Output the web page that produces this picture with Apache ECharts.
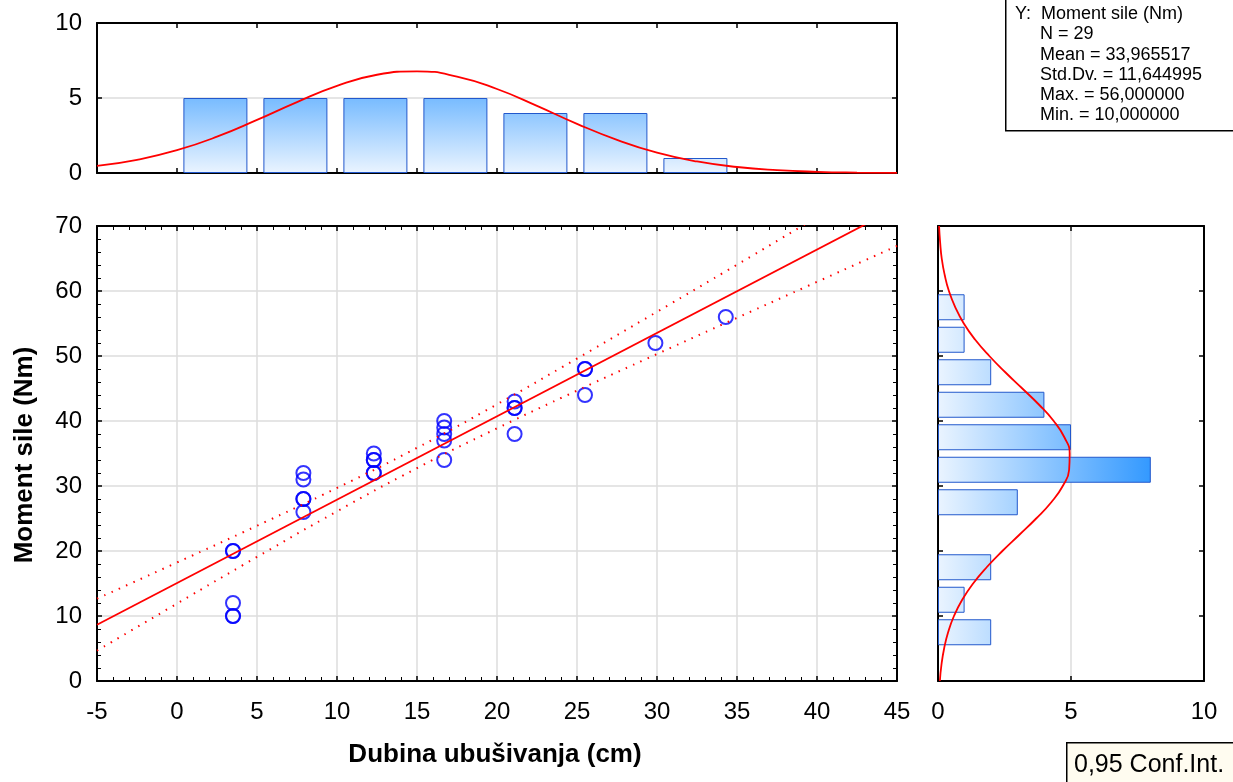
<!DOCTYPE html>
<html>
<head>
<meta charset="utf-8">
<script src="https://cdn.jsdelivr.net/npm/echarts@6/dist/echarts.min.js"></script>
<style>
  html, body { margin: 0; padding: 0; background: #fff; }
  #chart { width: 1233px; height: 782px; }
</style>
</head>
<body>
<div id="chart"></div>
<script>
// scatter data: Dubina ubušivanja (cm) vs Moment sile (Nm)
const scatterX = [3.5, 3.5, 3.5, 3.5, 3.5,
  7.9, 7.9, 7.9, 7.9, 7.9,
  12.3, 12.3, 12.3, 12.3, 12.3,
  16.7, 16.7, 16.7, 16.7, 16.7,
  21.1, 21.1, 21.1, 21.1,
  25.5, 25.5, 25.5,
  29.9, 34.3];
const scatterY = [20, 20, 12, 10, 10,
  32, 31, 28, 28, 26,
  35, 34, 34, 32, 32,
  40, 39, 38, 37, 34,
  43, 42, 42, 38,
  48, 48, 44,
  52, 56];

// regression line and 0.95 confidence band
const fitX = [-5, 45];
const fitY = [8.66, 72.79];
const ciX = [-5, 0, 5, 10, 15, 20, 25, 30, 35, 40, 45];
const ciUpper = [12.66, 18.23, 23.88, 29.70, 35.87, 42.57, 49.61, 56.80, 64.05, 71.35, 78.65];
const ciLower = [4.66, 11.91, 19.08, 26.10, 32.75, 38.87, 44.67, 50.30, 55.87, 61.41, 66.93];

// top histogram (X)
const xBinCenters = [2.4, 7.4, 12.4, 17.4, 22.4, 27.4, 32.4];
const xBinCounts = [5, 5, 5, 5, 4, 4, 1];
const topCurveX = [-5, -2.5, 0, 2.5, 5, 7.5, 10, 12.5, 15, 17.5, 20, 22.5, 25, 27.5, 30, 32.5, 35, 37.5, 40, 42.5, 45];
const topCurveY = [0.47, 0.88, 1.52, 2.42, 3.54, 4.73, 5.81, 6.55, 6.78, 6.43, 5.60, 4.48, 3.28, 2.21, 1.36, 0.77, 0.40, 0.19, 0.08, 0.03, 0.01];

// right histogram (Y)
const yBins = ['0-5', '5-10', '10-15', '15-20', '20-25', '25-30', '30-35', '35-40', '40-45', '45-50', '50-55', '55-60', '60-65', '65-70'];
const yBinCounts = ['-', 2, 1, 2, '-', 3, 8, 5, 4, 2, 1, 1, '-', '-'];
const rightCurveY = [0, 2.5, 5, 7.5, 10, 12.5, 15, 17.5, 20, 22.5, 25, 27.5, 30, 32.5, 35, 37.5, 40, 42.5, 45, 47.5, 50, 52.5, 55, 57.5, 60, 62.5, 65, 67.5, 70];
const rightCurveX = [0.07, 0.13, 0.23, 0.38, 0.60, 0.91, 1.32, 1.83, 2.42, 3.06, 3.69, 4.26, 4.69, 4.93, 4.95, 4.75, 4.35, 3.80, 3.17, 2.53, 1.93, 1.40, 0.97, 0.65, 0.41, 0.25, 0.14, 0.08, 0.04];

const statLines = ['Y:  Moment sile (Nm)', 'N = 29', 'Mean = 33,965517', 'Std.Dv. = 11,644995', 'Max. = 56,000000', 'Min. = 10,000000'];

const FONT = '"Liberation Sans", Arial, sans-serif';
const chart = echarts.init(document.getElementById('chart'));

const gridLine = { show: true, lineStyle: { color: '#dcdcdc', width: 1.5 } };
const blackLine = { show: true, onZero: false, lineStyle: { color: '#000', width: 2 } };
const tickIn = { show: true, inside: true, length: 5, lineStyle: { color: '#000', width: 1.5 } };
const minorIn = { show: true, splitNumber: 5, length: 4, lineStyle: { color: '#000', width: 1 } };
const lbl = { color: '#000', fontSize: 24, fontFamily: FONT };

function axis(extra) {
  return Object.assign({
    type: 'value',
    axisLine: blackLine,
    axisTick: tickIn,
    axisLabel: { show: false },
    splitLine: { show: false }
  }, extra);
}

const option = {
  animation: false,
  backgroundColor: '#fff',
  grid: [
    { left: 97, top: 23, width: 800, height: 150 },
    { left: 97, top: 226, width: 800, height: 455 },
    { left: 938, top: 226, width: 266, height: 455 }
  ],
  xAxis: [
    axis({ gridIndex: 0, position: 'bottom', min: -5, max: 45, interval: 5 }),
    axis({ gridIndex: 0, position: 'top', min: -5, max: 45, interval: 5 }),
    axis({ gridIndex: 1, position: 'bottom', min: -5, max: 45, interval: 5, minorTick: minorIn,
      axisLabel: Object.assign({ show: true, margin: 19 }, lbl), splitLine: gridLine }),
    axis({ gridIndex: 1, position: 'top', min: -5, max: 45, interval: 5, minorTick: minorIn }),
    axis({ gridIndex: 2, position: 'bottom', min: 0, max: 10, interval: 5,
      axisLabel: Object.assign({ show: true, margin: 19 }, lbl), splitLine: gridLine }),
    axis({ gridIndex: 2, position: 'top', min: 0, max: 10, interval: 5 })
  ],
  yAxis: [
    axis({ gridIndex: 0, position: 'left', min: 0, max: 10, interval: 5,
      axisLabel: Object.assign({ show: true, margin: 15 }, lbl), splitLine: gridLine }),
    axis({ gridIndex: 0, position: 'right', min: 0, max: 10, interval: 5 }),
    axis({ gridIndex: 1, position: 'left', min: 0, max: 70, interval: 10, minorTick: minorIn,
      axisLabel: Object.assign({ show: true, margin: 15 }, lbl), splitLine: gridLine }),
    axis({ gridIndex: 1, position: 'right', min: 0, max: 70, interval: 10, minorTick: minorIn }),
    axis({ gridIndex: 2, position: 'left', min: 0, max: 70, interval: 10 }),
    axis({ gridIndex: 2, position: 'right', min: 0, max: 70, interval: 10 }),
    { type: 'category', gridIndex: 2, position: 'left', data: yBins, boundaryGap: true, show: false }
  ],
  series: [
    {
      type: 'bar', xAxisIndex: 0, yAxisIndex: 0, barWidth: 64,
      data: xBinCenters.map((x, i) => [x, xBinCounts[i]]),
      itemStyle: {
        color: { type: 'linear', x: 0, y: 173, x2: 0, y2: 53, global: true,
          colorStops: [{ offset: 0, color: '#eaf4ff' }, { offset: 1, color: '#3399ff' }] },
        borderColor: '#2258cc', borderWidth: 1
      }
    },
    {
      type: 'line', xAxisIndex: 0, yAxisIndex: 0, smooth: true, showSymbol: false,
      data: topCurveX.map((x, i) => [x, topCurveY[i]]),
      lineStyle: { color: '#ff0000', width: 1.8 }
    },
    {
      type: 'bar', xAxisIndex: 4, yAxisIndex: 6, barWidth: 26,
      data: yBinCounts,
      itemStyle: {
        color: { type: 'linear', x: 938, y: 0, x2: 1151, y2: 0, global: true,
          colorStops: [{ offset: 0, color: '#eaf4ff' }, { offset: 1, color: '#3399ff' }] },
        borderColor: '#2258cc', borderWidth: 1
      }
    },
    {
      type: 'line', xAxisIndex: 4, yAxisIndex: 4, smooth: true, showSymbol: false,
      data: rightCurveY.map((y, i) => [rightCurveX[i], y]),
      lineStyle: { color: '#ff0000', width: 1.8 }
    },
    {
      type: 'line', xAxisIndex: 2, yAxisIndex: 2, showSymbol: false,
      data: fitX.map((x, i) => [x, fitY[i]]),
      lineStyle: { color: '#ff0000', width: 1.8 }
    },
    {
      type: 'line', xAxisIndex: 2, yAxisIndex: 2, smooth: true, showSymbol: false,
      data: ciX.map((x, i) => [x, ciUpper[i]]),
      lineStyle: { color: '#ff0000', width: 2, type: [1.5, 6.5] }
    },
    {
      type: 'line', xAxisIndex: 2, yAxisIndex: 2, smooth: true, showSymbol: false,
      data: ciX.map((x, i) => [x, ciLower[i]]),
      lineStyle: { color: '#ff0000', width: 2, type: [1.5, 6.5] }
    },
    {
      type: 'scatter', xAxisIndex: 2, yAxisIndex: 2, symbol: 'circle', symbolSize: 14,
      data: scatterX.map((x, i) => [x, scatterY[i]]),
      itemStyle: { color: 'rgba(0,0,0,0)', borderColor: '#0000ff', borderWidth: 2 }
    }
  ],
  graphic: [
    {
      type: 'rect', left: 1005, top: -2, shape: { width: 240, height: 132 },
      style: { fill: '#fff', stroke: '#000', lineWidth: 1.5 }
    },
    ...statLines.map((t, i) => ({
      type: 'text', x: i === 0 ? 1015 : 1040, y: 14 + i * 20.3,
      style: { text: t, fill: '#000', font: '18px ' + FONT, textVerticalAlign: 'middle' }
    })),
    {
      type: 'rect', left: 1066, top: 742, shape: { width: 180, height: 50 },
      style: { fill: '#fffcf0', stroke: '#000', lineWidth: 1.5 }
    },
    {
      type: 'text', x: 1074, y: 765,
      style: { text: '0,95 Conf.Int.', fill: '#000', font: '25px ' + FONT, textVerticalAlign: 'middle' }
    },
    {
      type: 'text', x: 495, y: 755,
      style: { text: 'Dubina ubušivanja (cm)', fill: '#000', font: 'bold 26px ' + FONT,
        textAlign: 'center', textVerticalAlign: 'middle' }
    },
    {
      type: 'text', x: 25, y: 455, rotation: Math.PI / 2,
      style: { text: 'Moment sile (Nm)', fill: '#000', font: 'bold 26px ' + FONT,
        textAlign: 'center', textVerticalAlign: 'middle' }
    }
  ]
};

chart.setOption(option);
</script>
</body>
</html>
